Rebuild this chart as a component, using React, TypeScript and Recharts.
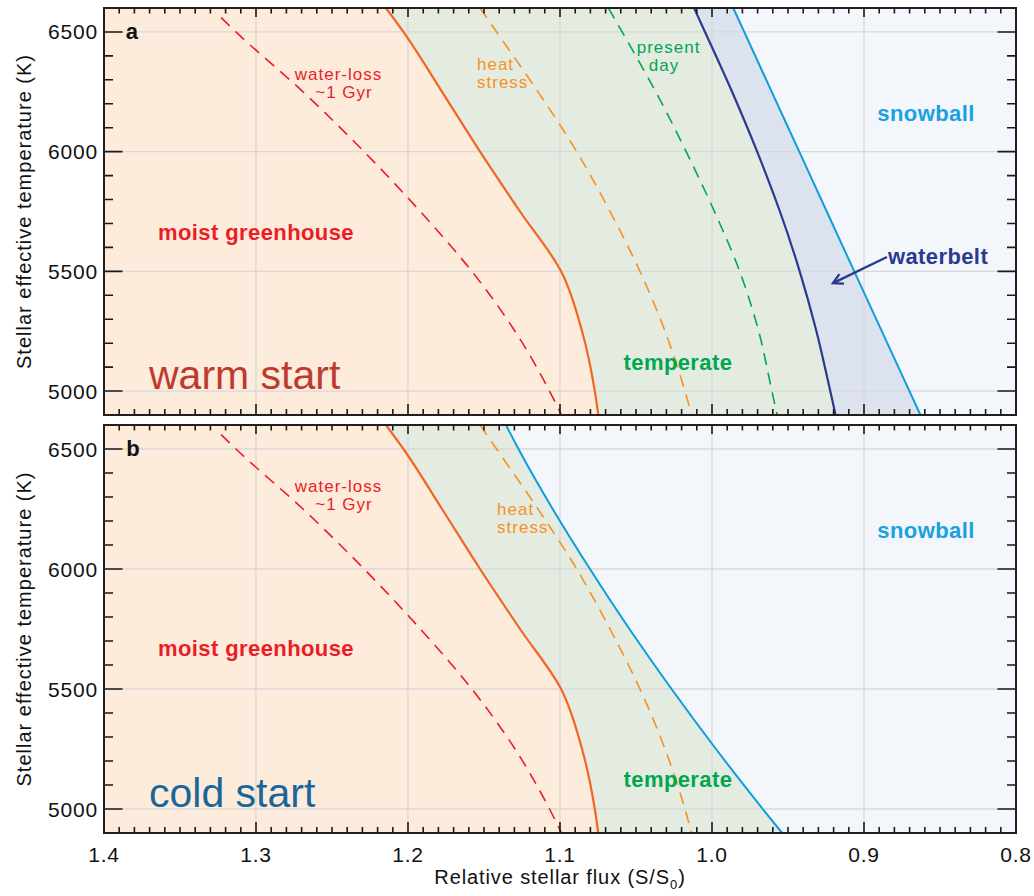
import React from 'react';
import {
  ComposedChart,
  XAxis,
  YAxis,
  Area,
  Line,
  ReferenceLine,
  ReferenceDot,
  CartesianGrid,
} from 'recharts';

const FONT = "'Liberation Sans', Arial, Helvetica, sans-serif";

// ---- data ----
// stellar effective temperature (K) at which the boundary curves were read
const tempK = [6600, 6500, 6250, 6000, 5750, 5500, 5250, 5000, 4900];
const waterLossTempK = [6560, 6500, 6250, 6000, 5750, 5500, 5250, 5000, 4900];

// relative stellar flux (S/S0) of each boundary
const waterLossFlux = [1.323, 1.3132, 1.2691, 1.2289, 1.1919, 1.158, 1.1296, 1.1069, 1.099];
const moistGreenhouseFlux = [1.2145, 1.203, 1.1776, 1.1526, 1.1263, 1.0993, 1.0855, 1.0771, 1.0748];
const heatStressFlux = [1.1526, 1.1417, 1.1145, 1.089, 1.0671, 1.0474, 1.0309, 1.0178, 1.0134];
const presentDayFlux = [1.0682, 1.0591, 1.037, 1.017, 0.9984, 0.9818, 0.9693, 0.9606, 0.9571];
const waterbeltEdgeFluxA = [1.0118, 1.0046, 0.9868, 0.9703, 0.9553, 0.9423, 0.9313, 0.9222, 0.9187];
const snowballEdgeFluxA = [0.986, 0.9788, 0.9607, 0.9426, 0.9245, 0.9064, 0.8883, 0.8701, 0.8629];
const snowballEdgeFluxB = [1.1355, 1.1273, 1.1048, 1.0803, 1.0543, 1.0266, 0.9974, 0.9666, 0.9539];

// axes
const fluxDomain = [0.8, 1.4];
const tempDomain = [4900, 6600];
const fluxMajorTicks = [1.4, 1.3, 1.2, 1.1, 1.0, 0.9, 0.8];
const fluxTickLabels = ['1.4', '1.3', '1.2', '1.1', '1.0', '0.9', '0.8'];
const tempMajorTicks = [6500, 6000, 5500, 5000];
const tempTickLabels = ['6500', '6000', '5500', '5000'];
const fluxGridLines = [1.3, 1.2, 1.1, 1.0, 0.9];
const tempGridLines = [6500, 6000, 5500, 5000];
const fluxMinorTicks = Array.from({ length: 61 }, (_, i) => (80 + i) / 100);
const tempMinorTicks = Array.from({ length: 18 }, (_, i) => 4900 + 100 * i);

// annotations (positions in data units)
const notesA = [
  { text: 'a', flux: 1.3816, T: 6500, kind: 'panel' },
  { text: 'water-loss', flux: 1.2457, T: 6322, kind: 'red' },
  { text: '~1 Gyr', flux: 1.2421, T: 6245, kind: 'red' },
  { text: 'heat', flux: 1.1546, T: 6364, kind: 'heat' },
  { text: 'stress', flux: 1.1546, T: 6289, kind: 'heat' },
  { text: 'present', flux: 1.0286, T: 6437, kind: 'present' },
  { text: 'day', flux: 1.0316, T: 6358, kind: 'present' },
  { text: 'snowball', flux: 0.8592, T: 6161, kind: 'snowball' },
  { text: 'waterbelt', flux: 0.8513, T: 5560, kind: 'waterbelt' },
  { text: 'moist greenhouse', flux: 1.3, T: 5664, kind: 'moist' },
  { text: 'temperate', flux: 1.0224, T: 5119, kind: 'temperate' },
  { text: 'warm start', flux: 1.3704, T: 5008, kind: 'warm' },
];
const notesB = [
  { text: 'b', flux: 1.3809, T: 6504, kind: 'panel' },
  { text: 'water-loss', flux: 1.2457, T: 6342, kind: 'red' },
  { text: '~1 Gyr', flux: 1.2421, T: 6267, kind: 'red' },
  { text: 'heat', flux: 1.1414, T: 6246, kind: 'heat' },
  { text: 'stress', flux: 1.1414, T: 6173, kind: 'heat' },
  { text: 'snowball', flux: 0.8592, T: 6162, kind: 'snowball' },
  { text: 'moist greenhouse', flux: 1.3, T: 5669, kind: 'moist' },
  { text: 'temperate', flux: 1.0224, T: 5121, kind: 'temperate' },
  { text: 'cold start', flux: 1.3704, T: 5010, kind: 'cold' },
];
const waterbeltArrow = [
  { flux: 0.8849, T: 5560 },
  { flux: 0.9204, T: 5451 },
];

// ---- colours ----
const C = {
  peach: '#FDEBDC',
  green: '#E4ECE2',
  belt: '#DCE3EE',
  snow: '#F3F6FB',
  grid: '#D8D8D8',
  frame: '#231F20',
  red: '#ED1C24',
  orange: '#F26522',
  heat: '#F7901E',
  present: '#00A651',
  navy: '#2B3990',
  sky: '#0E9DDB',
  warm: '#BE3A2E',
  cold: '#1B6698',
};

const noteStyle: Record<string, any> = {
  panel: { fill: '#111', fontSize: 22, fontWeight: 700, anchor: 'middle' },
  red: { fill: C.red, fontSize: 17, letterSpacing: 1, anchor: 'middle' },
  heat: { fill: C.heat, fontSize: 17, letterSpacing: 1, anchor: 'start' },
  present: { fill: C.present, fontSize: 17, letterSpacing: 1, anchor: 'middle' },
  snowball: { fill: '#1BA1E2', fontSize: 22, fontWeight: 700, letterSpacing: 0.4, anchor: 'middle' },
  waterbelt: { fill: C.navy, fontSize: 22, fontWeight: 700, letterSpacing: 0.4, anchor: 'middle' },
  moist: { fill: C.red, fontSize: 22, fontWeight: 700, letterSpacing: 0.4, anchor: 'middle' },
  temperate: { fill: C.present, fontSize: 22, fontWeight: 700, letterSpacing: 0.4, anchor: 'middle' },
  warm: { fill: C.warm, fontSize: 41, anchor: 'start', baseline: 'alphabetic' },
  cold: { fill: C.cold, fontSize: 41, anchor: 'start', baseline: 'alphabetic' },
};

const majorIndex = (list: number[], v: number) =>
  list.findIndex((m) => Math.abs(m - v) < 1e-6);

// axis tick labels
const xTickLabel = (showLabels: boolean) => (props: any) => {
  const { x, y, payload } = props;
  const mi = majorIndex(fluxMajorTicks, payload.value);
  if (!showLabels || mi < 0) return <g />;
  return (
    <text
      x={x}
      y={y + 21.5}
      textAnchor="middle"
      dominantBaseline="central"
      fontSize={21}
      letterSpacing={0.8}
      fontFamily={FONT}
      fill="#111"
    >
      {fluxTickLabels[mi]}
    </text>
  );
};

const yTickLabel = (props: any) => {
  const { x, y, payload } = props;
  const mi = majorIndex(tempMajorTicks, payload.value);
  if (mi < 0) return <g />;
  return (
    <text
      x={x - 6}
      y={y}
      textAnchor="end"
      dominantBaseline="central"
      fontSize={21}
      letterSpacing={0.8}
      fontFamily={FONT}
      fill="#111"
    >
      {tempTickLabels[mi]}
    </text>
  );
};

const yLabel = (props: any) => {
  const vb = props.viewBox;
  const cx = vb.x + 24;
  const cy = vb.y + vb.height / 2;
  return (
    <text
      x={cx}
      y={cy}
      transform={`rotate(-90, ${cx}, ${cy})`}
      textAnchor="middle"
      dominantBaseline="central"
      fontSize={20}
      letterSpacing={1}
      fontFamily={FONT}
      fill="#111"
    >
      Stellar effective temperature (K)
    </text>
  );
};

const xLabel = (props: any) => {
  const vb = props.viewBox;
  const cx = vb.x + vb.width / 2;
  const by = vb.y + 51;
  return (
    <text x={cx} y={by} textAnchor="middle" fontSize={20} letterSpacing={0.9} fontFamily={FONT} fill="#111">
      <tspan>Relative stellar flux (S/S</tspan>
      <tspan dy={5} fontSize={13}>0</tspan>
      <tspan dy={-5}>)</tspan>
    </text>
  );
};

const renderNote = (n: any, i: number) => {
  const s = noteStyle[n.kind];
  return (
    <ReferenceDot
      key={`note-${i}`}
      xAxisId="x"
      yAxisId="y"
      x={n.flux}
      y={n.T}
      r={0}
      ifOverflow="visible"
      shape={(p: any) => (
        <text
          x={p.cx}
          y={p.cy}
          textAnchor={s.anchor}
          dominantBaseline={s.baseline || 'central'}
          fontSize={s.fontSize}
          fontWeight={s.fontWeight || 400}
          letterSpacing={s.letterSpacing || 0}
          fontFamily={FONT}
          fill={s.fill}
        >
          {n.text}
        </text>
      )}
    />
  );
};

const arrowShape = (p: any) => {
  const { x1, y1, x2, y2 } = p;
  const ang = Math.atan2(y1 - y2, x1 - x2);
  const L = 11;
  const a = 0.5;
  const pts = `${x2 + L * Math.cos(ang + a)},${y2 + L * Math.sin(ang + a)} ${x2},${y2} ${
    x2 + L * Math.cos(ang - a)
  },${y2 + L * Math.sin(ang - a)}`;
  return (
    <g>
      <line x1={x1} y1={y1} x2={x2} y2={y2} stroke={C.navy} strokeWidth={2.4} />
      <polyline points={pts} fill="none" stroke={C.navy} strokeWidth={2.4} />
    </g>
  );
};

// Frame + inward ticks on all four sides, drawn as one path. A reference segment
// between two grid intersections gives the pixel positions of known values, from
// which the library's linear scales are reproduced.
const calib = [
  { x: fluxGridLines[0], y: tempGridLines[0] },
  { x: fluxGridLines[fluxGridLines.length - 1], y: tempGridLines[tempGridLines.length - 1] },
];
const frameShape = (p: any) => {
  const { x1, y1, x2, y2 } = p;
  const sx = (x2 - x1) / (calib[1].x - calib[0].x);
  const sy = (y2 - y1) / (calib[1].y - calib[0].y);
  const px = (v: number) => x1 + (v - calib[0].x) * sx;
  const py = (v: number) => y1 + (v - calib[0].y) * sy;
  const left = px(fluxDomain[1]);
  const right = px(fluxDomain[0]);
  const top = py(tempDomain[1]);
  const bottom = py(tempDomain[0]);
  let d = '';
  fluxMinorTicks.forEach((v) => {
    const major = majorIndex(fluxMajorTicks, v) >= 0;
    const x = px(v).toFixed(2);
    d += `M${x},${top.toFixed(2)}V${(top + (major ? 9 : 5.5)).toFixed(2)}`;
    d += `M${x},${bottom.toFixed(2)}V${(bottom - (major ? 11 : 6)).toFixed(2)}`;
  });
  tempMinorTicks.forEach((v) => {
    const major = majorIndex(tempMajorTicks, v) >= 0;
    const y = py(v).toFixed(2);
    const len = major ? 18.5 : 9;
    d += `M${left.toFixed(2)},${y}H${(left + len).toFixed(2)}`;
    d += `M${right.toFixed(2)},${y}H${(right - len).toFixed(2)}`;
  });
  return (
    <g>
      <path d={d} fill="none" stroke="#1a1a1a" strokeWidth={1.6} />
      <rect x={left} y={top} width={right - left} height={bottom - top} fill="none" stroke={C.frame} strokeWidth={2} />
    </g>
  );
};

const rowsA = tempK.map((T, i) => ({
  T,
  moist: moistGreenhouseFlux[i],
  heat: heatStressFlux[i],
  present: presentDayFlux[i],
  belt: waterbeltEdgeFluxA[i],
  snow: snowballEdgeFluxA[i],
}));
const rowsB = tempK.map((T, i) => ({
  T,
  moist: moistGreenhouseFlux[i],
  heat: heatStressFlux[i],
  snow: snowballEdgeFluxB[i],
}));
const waterLossRows = waterLossTempK.map((T, i) => ({ T, wl: waterLossFlux[i] }));

function axes(bottomHeight: number, bottomLabels: boolean) {
  return [
    <XAxis
      key="xb"
      xAxisId="x"
      type="number"
      orientation="bottom"
      domain={fluxDomain}
      reversed
      allowDataOverflow
      ticks={fluxMinorTicks}
      interval={0}
      height={bottomHeight}
      tickSize={0}
      tickMargin={0}
      tickLine={false}
      axisLine={false}
      tick={xTickLabel(bottomLabels)}
      label={bottomLabels ? { content: xLabel } : undefined}
    />,
    <YAxis
      key="yl"
      yAxisId="y"
      type="number"
      dataKey="T"
      orientation="left"
      domain={tempDomain}
      reversed
      allowDataOverflow
      ticks={tempMinorTicks}
      interval={0}
      width={104}
      tickSize={0}
      tickMargin={0}
      tickLine={false}
      axisLine={false}
      tick={yTickLabel}
      label={{ content: yLabel }}
    />,
  ];
}

const gridLines = () => [
  ...fluxGridLines.map((v) => (
    <ReferenceLine key={`gx${v}`} xAxisId="x" yAxisId="y" x={v} stroke={C.grid} strokeWidth={1.3} />
  )),
  ...tempGridLines.map((v) => (
    <ReferenceLine key={`gy${v}`} xAxisId="x" yAxisId="y" y={v} stroke={C.grid} strokeWidth={1.3} />
  )),
];

const fillArea = (key: string, color: string) => (
  <Area
    key={`area-${key}`}
    xAxisId="x"
    yAxisId="y"
    dataKey={key}
    type="monotoneY"
    baseValue="dataMax"
    fill={color}
    fillOpacity={1}
    stroke="none"
    isAnimationActive={false}
  />
);

const boundary = (key: string, color: string, width: number, dash?: string, data?: any[]) => (
  <Line
    key={`line-${key}`}
    xAxisId="x"
    yAxisId="y"
    data={data}
    dataKey={key}
    type="monotoneY"
    stroke={color}
    strokeWidth={width}
    strokeDasharray={dash}
    dot={false}
    activeDot={false}
    isAnimationActive={false}
  />
);

export default function App() {
  return (
    <div style={{ position: 'absolute', left: 0, top: 0, width: 1034, height: 896, background: '#fff' }}>
      <div style={{ position: 'absolute', left: 0, top: 0 }}>
        <ComposedChart
          layout="vertical"
          width={1034}
          height={417}
          data={rowsA}
          margin={{ top: 8, right: 18, bottom: 0, left: 0 }}
        >
          <CartesianGrid xAxisId="x" yAxisId="y" fill={C.snow} horizontal={false} vertical={false} />
          {axes(2, false)}
          {fillArea('snow', C.belt)}
          {fillArea('belt', C.green)}
          {fillArea('moist', C.peach)}
          {gridLines()}
          {boundary('wl', C.red, 1.6, '12 8', waterLossRows)}
          {boundary('moist', C.orange, 2.2)}
          {boundary('heat', C.heat, 1.6, '12 8')}
          {boundary('present', C.present, 1.6, '12 8')}
          {boundary('belt', C.navy, 2.2)}
          {boundary('snow', C.sky, 2)}
          <ReferenceLine
            xAxisId="x"
            yAxisId="y"
            segment={waterbeltArrow.map((p) => ({ x: p.flux, y: p.T }))}
            shape={arrowShape}
            ifOverflow="visible"
          />
          <ReferenceLine xAxisId="x" yAxisId="y" segment={calib} shape={frameShape} ifOverflow="visible" />
          {notesA.map(renderNote)}
        </ComposedChart>
      </div>
      <div style={{ position: 'absolute', left: 0, top: 417 }}>
        <ComposedChart
          layout="vertical"
          width={1034}
          height={479}
          data={rowsB}
          margin={{ top: 8, right: 18, bottom: 0, left: 0 }}
        >
          <CartesianGrid xAxisId="x" yAxisId="y" fill={C.snow} horizontal={false} vertical={false} />
          {axes(63, true)}
          {fillArea('snow', C.green)}
          {fillArea('moist', C.peach)}
          {gridLines()}
          {boundary('wl', C.red, 1.6, '12 8', waterLossRows)}
          {boundary('moist', C.orange, 2.2)}
          {boundary('heat', C.heat, 1.6, '12 8')}
          {boundary('snow', C.sky, 2)}
          <ReferenceLine xAxisId="x" yAxisId="y" segment={calib} shape={frameShape} ifOverflow="visible" />
          {notesB.map(renderNote)}
        </ComposedChart>
      </div>
    </div>
  );
}
